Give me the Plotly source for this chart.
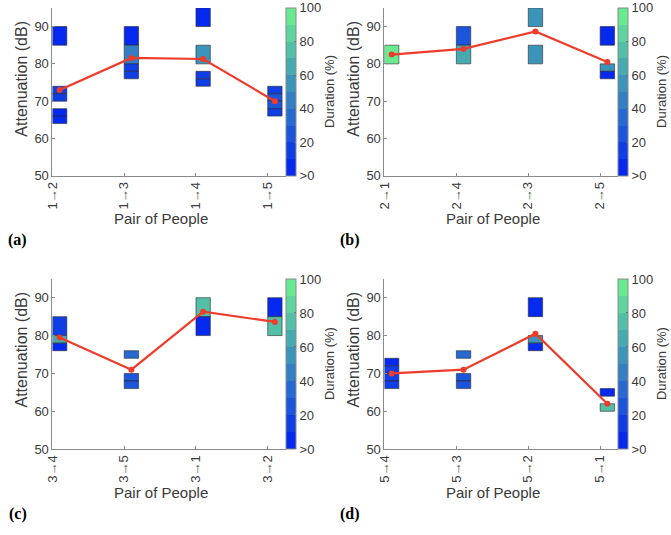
import plotly.graph_objects as go

W, H = 671, 535

# ---------------- data ----------------
pairs_a = ["1→2", "1→3", "1→4", "1→5"]
mean_a = [73.0, 81.6, 81.3, 70.0]
cell_pair_a = [0, 0, 0, 0, 0, 1, 1, 1, 1, 2, 2, 2, 2, 3, 3, 3, 3]
cell_low_a = [85, 72, 70, 66, 64, 85, 80, 78, 76, 90, 80, 76, 74, 72, 70, 68, 66]
cell_high_a = [90, 74, 72, 68, 66, 90, 85, 80, 78, 95, 85, 78, 76, 74, 72, 70, 68]
cell_dur_a = [5, 15, 15, 8, 8, 5, 40, 15, 15, 5, 55, 15, 15, 10, 25, 20, 10]

pairs_b = ["2→1", "2→4", "2→3", "2→5"]
mean_b = [82.5, 84.0, 88.7, 80.5]
cell_pair_b = [0, 1, 1, 2, 2, 3, 3, 3]
cell_low_b = [80, 85, 80, 90, 80, 85, 78, 76]
cell_high_b = [85, 90, 85, 95, 85, 90, 80, 78]
cell_dur_b = [95, 22, 65, 52, 52, 5, 50, 8]

pairs_c = ["3→4", "3→5", "3→1", "3→2"]
mean_c = [79.5, 71.0, 86.3, 83.6]
cell_pair_c = [0, 0, 0, 1, 1, 1, 2, 2, 3, 3]
cell_low_c = [80, 78, 76, 74, 68, 66, 85, 80, 85, 80]
cell_high_c = [85, 80, 78, 76, 70, 68, 90, 85, 90, 85]
cell_dur_c = [10, 65, 5, 35, 25, 25, 75, 5, 5, 75]

pairs_d = ["5→4", "5→3", "5→2", "5→1"]
mean_d = [70.0, 71.0, 80.5, 62.0]
cell_pair_d = [0, 0, 0, 0, 1, 1, 1, 2, 2, 2, 3, 3]
cell_low_d = [72, 70, 68, 66, 74, 68, 66, 85, 78, 76, 64, 60]
cell_high_d = [74, 72, 70, 68, 76, 70, 68, 90, 80, 78, 66, 62]
cell_dur_d = [8, 15, 15, 15, 35, 25, 25, 8, 50, 8, 8, 70]

y_ticks = [50, 60, 70, 80, 90]
cb_tickvals = [0, 20, 40, 60, 80, 100]
cb_ticktext = [">0", "20", "40", "60", "80", "100"]
panel_labels = ["(a)", "(b)", "(c)", "(d)"]

# ---------------- style ----------------
FONT = "Liberation Sans"
TXT = "#3a3a3a"
AX = "#8a8a8a"
RED = "#EE3B2B"

c_lo = (0, 30, 245)
c_hi = (110, 245, 140)
colorscale = []
for i in range(10):
    t = (i + 0.5) / 10
    c = tuple(round(c_lo[k] + (c_hi[k] - c_lo[k]) * t) for k in range(3))
    col = "rgb(%d,%d,%d)" % c
    colorscale.append([i / 10, col])
    colorscale.append([(i + 1) / 10, col])

# pixel boxes: (plot left, plot right, top, bottom)
boxes = [
    (45, 281, 8, 178.5),
    (381, 617.5, 8, 178.5),
    (45, 281, 283, 456),
    (381, 617.5, 283, 456),
]
cb_w = 9.5
ytitle_x = [14, 350, 14, 350]
cbtitle_x = [326, 662, 326, 662]
xtitle_y = [222, 222, 500, 500]
lab_pos = [(10, 244), (346, 244), (10, 522), (346, 522)]

datasets = [
    (pairs_a, mean_a, cell_pair_a, cell_low_a, cell_high_a, cell_dur_a),
    (pairs_b, mean_b, cell_pair_b, cell_low_b, cell_high_b, cell_dur_b),
    (pairs_c, mean_c, cell_pair_c, cell_low_c, cell_high_c, cell_dur_c),
    (pairs_d, mean_d, cell_pair_d, cell_low_d, cell_high_d, cell_dur_d),
]

fig = go.Figure()
layout = dict(
    width=W, height=H, margin=dict(l=0, r=0, t=0, b=0),
    paper_bgcolor="white", plot_bgcolor="white",
    showlegend=False, barmode="overlay",
    font=dict(family=FONT, color=TXT, size=13),
)
annotations = []

for n, (pairs, mean, cp, lo, hi, dur) in enumerate(datasets):
    s = "" if n == 0 else str(n + 1)
    xl, xr, yt, yb = boxes[n]
    xa, ya = "x" + s, "y" + s
    cax = "coloraxis" + s

    fig.add_trace(go.Bar(
        x=[p + 1 for p in cp],
        base=lo,
        y=[h - l for h, l in zip(hi, lo)],
        width=0.2, offset=0,
        marker=dict(color=dur, coloraxis=cax,
                    line=dict(color="rgba(40,40,40,0.6)", width=1)),
        xaxis=xa, yaxis=ya, hoverinfo="skip",
    ))
    fig.add_trace(go.Scatter(
        x=[i + 1.1 for i in range(len(pairs))], y=mean,
        mode="lines+markers",
        line=dict(color=RED, width=2.2),
        marker=dict(color=RED, size=6),
        xaxis=xa, yaxis=ya, hoverinfo="skip",
    ))

    layout["xaxis" + s] = dict(
        domain=[xl / W, xr / W], anchor=ya, range=[1, 4.25],
        tickvals=[1, 2, 3, 4], ticktext=pairs, tickangle=-90,
        ticks="inside", ticklen=3, tickcolor=AX,
        showline=True, linecolor=AX, linewidth=1,
        showgrid=False, zeroline=False,
        tickfont=dict(size=13, color=TXT, family=FONT),
    )
    layout["yaxis" + s] = dict(
        domain=[1 - yb / H, 1 - yt / H], anchor=xa, range=[50, 95],
        tickvals=y_ticks, ticks="inside", ticklen=3, tickcolor=AX,
        showline=True, linecolor=AX, linewidth=1,
        showgrid=False, zeroline=False,
        tickfont=dict(size=13, color=TXT, family=FONT),
    )
    layout[cax] = dict(
        cmin=0, cmax=100, colorscale=colorscale,
        colorbar=dict(
            x=xr / W, xanchor="left", xpad=0,
            y=1 - (yt + yb) / 2 / H, yanchor="middle", ypad=0,
            len=(yb - yt) / H, lenmode="fraction",
            thickness=cb_w, thicknessmode="pixels",
            outlinewidth=1, outlinecolor=AX,
            tickvals=cb_tickvals, ticktext=cb_ticktext,
            ticks="inside", ticklen=2, tickcolor="#666",
            ticklabeloverflow="allow",
            tickfont=dict(size=13, color=TXT, family=FONT),
        ),
    )

    annotations.append(dict(
        text="Attenuation (dB)", textangle=-90, showarrow=False,
        xref="paper", yref="paper",
        x=ytitle_x[n] / W, y=1 - (yt + 72) / H,
        xanchor="center", yanchor="middle",
        font=dict(size=16, color=TXT, family=FONT),
    ))
    annotations.append(dict(
        text="Duration (%)", textangle=-90, showarrow=False,
        xref="paper", yref="paper",
        x=cbtitle_x[n] / W, y=1 - (yt + yb) / 2 / H,
        xanchor="center", yanchor="middle",
        font=dict(size=13, color=TXT, family=FONT),
    ))
    annotations.append(dict(
        text="Pair of People", showarrow=False,
        xref="paper", yref="paper",
        x=(xl + xr - 16) / 2 / W, y=1 - xtitle_y[n] / H,
        xanchor="center", yanchor="middle",
        font=dict(size=15, color=TXT, family=FONT),
    ))
    annotations.append(dict(
        text="<b>%s</b>" % panel_labels[n], showarrow=False,
        xref="paper", yref="paper",
        x=lab_pos[n][0] / W, y=1 - lab_pos[n][1] / H,
        xanchor="center", yanchor="middle",
        font=dict(size=16, color="black", family="Liberation Serif"),
    ))

layout["annotations"] = annotations
fig.update_layout(**layout)
fig.write_html(
    "out.html",
    config={"displayModeBar": False},
    post_script="document.body.style.margin='0';document.body.style.overflow='hidden';",
)
